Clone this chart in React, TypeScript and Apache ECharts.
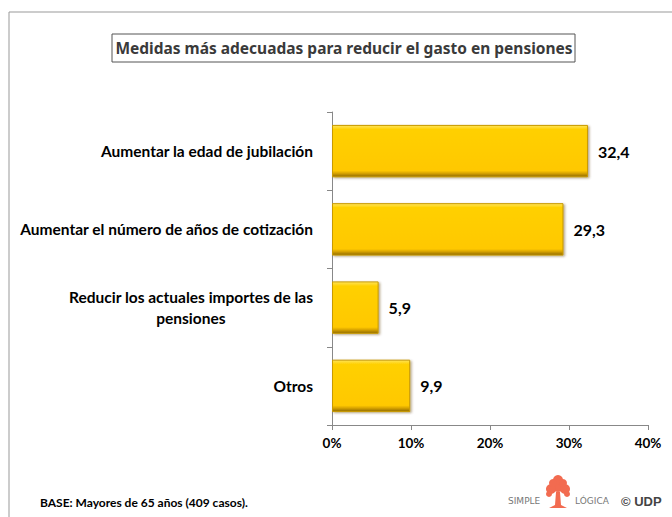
import React, { useEffect, useRef } from "react";
import * as echarts from "echarts";

const categories = [
  "Aumentar la edad de jubilación",
  "Aumentar el número de años de cotización",
  "Reducir los actuales importes de las\npensiones",
  "Otros",
];
const values = [32.4, 29.3, 5.9, 9.9];
const xTicks = [0, 10, 20, 30, 40];
const titleText = "Medidas más adecuadas para reducir el gasto en pensiones";
const baseText = "BASE: Mayores de 65 años (409 casos).";

export default function App() {
  const ref = useRef<HTMLDivElement>(null);
  useEffect(() => {
    if (!ref.current) return;
    const chart = echarts.init(ref.current, undefined, { renderer: "svg" });
    const barColor = new echarts.graphic.LinearGradient(0, 0, 0, 1, [
      { offset: 0, color: "#FFE45C" },
      { offset: 0.08, color: "#FFD000" },
      { offset: 0.88, color: "#FFC800" },
      { offset: 0.93, color: "#D9A400" },
      { offset: 1, color: "#8F6A00" },
    ]);
    const treeCircles = [
      [558, 485, 7],
      [551, 489, 5],
      [565, 489, 5],
      [558, 480, 5],
      [553, 483, 4],
      [563, 483, 4],
      [549, 494, 3],
      [567, 494, 3],
    ];
    const lab = { fontFamily: "Lato", fontWeight: "bold", fontSize: 15.5, color: "#000", lineHeight: 21 };
    chart.setOption({
      animation: false,
      grid: { left: 332, right: 24, top: 112, bottom: 92, containLabel: false },
      xAxis: {
        type: "value",
        min: xTicks[0],
        max: xTicks[xTicks.length - 1],
        interval: 10,
        splitLine: { show: false },
        axisLine: { show: true, lineStyle: { color: "#888", width: 1 } },
        axisTick: { show: true, length: 5, lineStyle: { color: "#888" } },
        axisLabel: {
          formatter: "{value}%",
          margin: 11,
          color: "#000",
          fontFamily: "Lato",
          fontWeight: "bold",
          fontSize: 13.5,
        },
      },
      yAxis: {
        type: "category",
        inverse: true,
        data: categories,
        axisLine: { show: true, lineStyle: { color: "#888", width: 1 } },
        axisTick: { show: true, length: 5, lineStyle: { color: "#888" } },
        axisLabel: {
          margin: 19,
          ...lab,
          formatter: (v: string) => {
            const parts = v.split("\n");
            if (parts.length === 1) return "{a|" + v + "}";
            return "{a|" + parts[0] + "}\n{c|" + parts[1] + "}";
          },
          rich: {
            a: { ...lab },
            c: { ...lab, align: "center" },
          },
        },
      },
      series: [
        {
          type: "bar",
          data: values,
          barCategoryGap: "33%",
          itemStyle: {
            color: barColor,
            borderColor: "#C99A00",
            borderWidth: 1,
            shadowColor: "rgba(90,60,0,0.45)",
            shadowOffsetX: 1.5,
            shadowOffsetY: 1,
            shadowBlur: 2,
          },
          label: {
            show: true,
            position: "right",
            distance: 10,
            formatter: (p: any) => String(p.value).replace(".", ","),
            color: "#000",
            fontFamily: "Lato",
            fontWeight: "bold",
            fontSize: 16,
          },
        },
      ],
      graphic: [
        {
          type: "rect",
          shape: { x: 9, y: 12, width: 700, height: 600 },
          style: { fill: "none", stroke: "#999", lineWidth: 1 },
          silent: true,
        },
        {
          type: "rect",
          shape: { x: 112, y: 34, width: 463, height: 28 },
          style: { fill: "#fff", stroke: "#555", lineWidth: 1 },
        },
        {
          type: "text",
          x: 344,
          y: 48,
          style: {
            text: titleText,
            fill: "#3a3a3a",
            font: "bold 15.5px 'Noto Sans'",
            align: "center",
            verticalAlign: "middle",
          },
        },
        {
          type: "text",
          x: 40,
          y: 502,
          style: {
            text: baseText,
            fill: "#000",
            font: "bold 12px Lato",
            align: "left",
            verticalAlign: "middle",
          },
        },
        {
          type: "text",
          x: 508,
          y: 501,
          style: {
            text: "SIMPLE",
            fill: "#777",
            font: "9px 'DejaVu Sans'",
            align: "left",
            verticalAlign: "middle",
          },
        },
        ...treeCircles.map((c) => ({
          type: "circle",
          shape: { cx: c[0], cy: c[1], r: c[2] },
          style: { fill: "#F26B50" },
        })),
        {
          type: "polygon",
          shape: { points: [[556, 492], [560, 492], [561, 505], [567, 508], [549, 508], [555, 505]] },
          style: { fill: "#F26B50" },
        },
        {
          type: "text",
          x: 575,
          y: 501,
          style: {
            text: "LÓGICA",
            fill: "#777",
            font: "9px 'DejaVu Sans'",
            align: "left",
            verticalAlign: "middle",
          },
        },
        {
          type: "text",
          x: 621,
          y: 501,
          style: {
            text: "© UDP",
            fill: "#444",
            font: "bold 13px 'Liberation Sans'",
            align: "left",
            verticalAlign: "middle",
          },
        },
      ],
    });
    return () => chart.dispose();
  }, []);
  return (
    <div
      ref={ref}
      style={{ position: "fixed", left: 0, top: 0, width: 672, height: 517, background: "#fff" }}
    />
  );
}
